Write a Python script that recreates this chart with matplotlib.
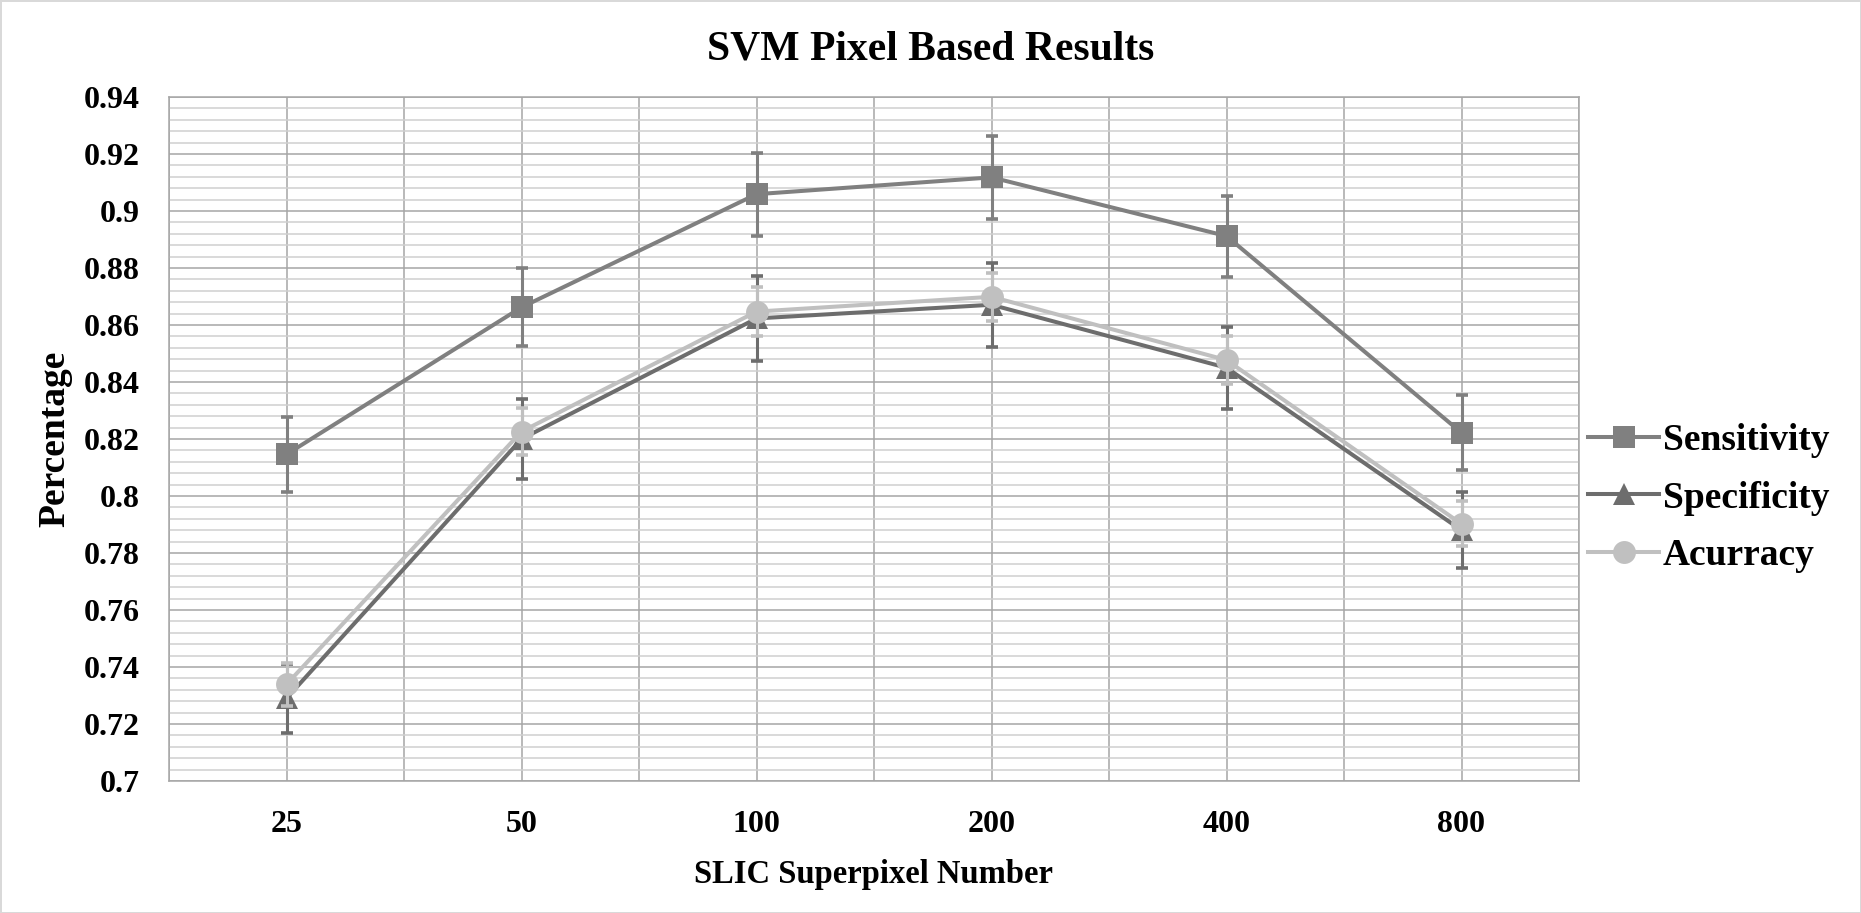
import numpy as np
import matplotlib
matplotlib.use("Agg")
import matplotlib.pyplot as plt

plt.rcParams['font.family'] = ['Liberation Serif', 'DejaVu Serif']
plt.rcParams['font.weight'] = 'bold'

categories = ['25', '50', '100', '200', '400', '800']
sensitivity = [0.8146, 0.8662, 0.9059, 0.9118, 0.8912, 0.8222]
sens_err = [0.0132, 0.0137, 0.0146, 0.0146, 0.0142, 0.0132]
specificity = [0.729, 0.820, 0.8623, 0.8671, 0.845, 0.788]
spec_err = [0.012, 0.014, 0.0148, 0.0148, 0.0144, 0.0134]
accuracy = [0.7339, 0.8226, 0.8647, 0.8699, 0.8477, 0.7902]
acc_err = [0.0076, 0.0082, 0.0086, 0.0085, 0.0083, 0.0079]

series = [
    ('Sensitivity', sensitivity, sens_err, '#808080', 's'),
    ('Specificity', specificity, spec_err, '#6d6d6d', '^'),
    ('Acurracy', accuracy, acc_err, '#c0c0c0', 'o'),
]

W, H = 1861, 913
fig = plt.figure(figsize=(W / 100, H / 100), dpi=100)
fig.patch.set_edgecolor('#d9d9d9')
fig.patch.set_linewidth(2)
ax = fig.add_axes([169 / W, 1 - 781 / H, (1579 - 169) / W, (781 - 97) / H])

x = np.arange(len(categories))
z = 2
for name, vals, err, col, mk in series:
    ax.errorbar(x, vals, yerr=err, fmt='none', ecolor=col, elinewidth=2.2,
                capsize=4.3, capthick=2.6, zorder=z)
    ax.plot(x, vals, color=col, lw=2.9, marker=mk, markersize=16.5,
            markeredgewidth=0, label=name, zorder=z + 1)
    z += 2

ax.set_xlim(-0.5, len(categories) - 0.5)
ax.set_ylim(0.70, 0.94)
ax.set_xticks(x)
ax.set_xticklabels(categories)
ax.set_xticks(np.arange(-0.5, len(categories), 1), minor=True)
yt = np.round(np.arange(0.70, 0.9401, 0.02), 2)
ax.set_yticks(yt)
ax.set_yticklabels([f'{v:g}' for v in yt])
ax.set_yticks(np.arange(0.70, 0.9401, 0.004), minor=True)

ax.set_axisbelow(True)
ax.grid(which='major', axis='both', color='#a6a6a6', lw=1.1)
ax.grid(which='minor', axis='x', color='#a6a6a6', lw=1.1)
ax.grid(which='minor', axis='y', color='#cfcfcf', lw=1.1)
for s in ax.spines.values():
    s.set_color('#a6a6a6')
    s.set_linewidth(1.1)

ax.tick_params(which='both', length=0)
ax.tick_params(axis='y', labelsize=23, pad=21)
ax.tick_params(axis='x', labelsize=23, pad=21)

ax.set_xlabel('SLIC Superpixel Number', fontsize=23.5, fontweight='bold', labelpad=14)
ax.set_ylabel('Percentage', fontsize=27, fontweight='bold', labelpad=8)

fig.text(0.5, 1 - 49 / H, 'SVM Pixel Based Results', fontsize=30,
         fontweight='bold', ha='center', va='center')

fig.legend(loc='center left', bbox_to_anchor=(1588 / W, 1 - 498 / H),
           frameon=False, fontsize=27, handlelength=1.9, handletextpad=0.1,
           labelspacing=0.6, borderpad=0, borderaxespad=0)

fig.savefig('out.png', dpi=100, edgecolor=fig.get_edgecolor())
